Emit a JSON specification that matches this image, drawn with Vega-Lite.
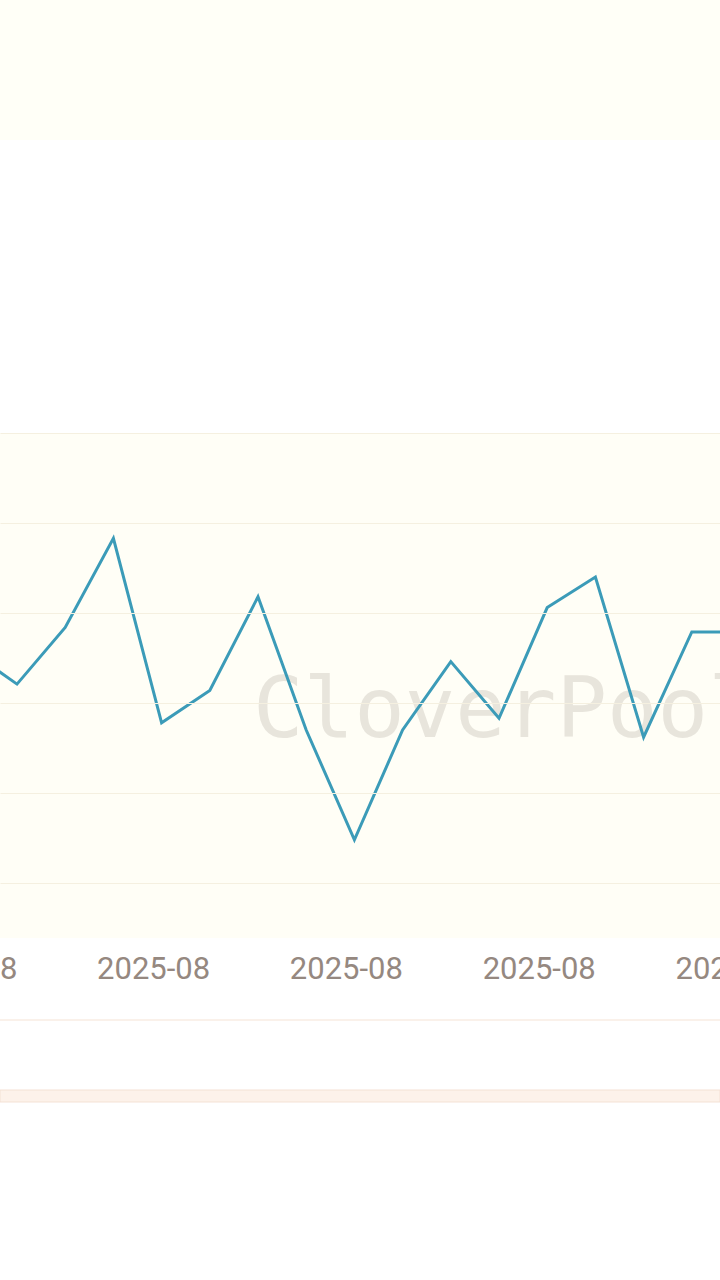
{
  "$schema": "https://vega.github.io/schema/vega-lite/v6.json",
  "width": 720,
  "height": 938,
  "autosize": {"type": "none"},
  "padding": {"left": 0, "top": 0, "right": 0, "bottom": 342},
  "background": "#ffffff",
  "config": {"view": {"stroke": null}},
  "data": {
    "values": [
      {"date": "2025-08-01", "value": 2.59},
      {"date": "2025-08-02", "value": 2.21},
      {"date": "2025-08-03", "value": 2.84},
      {"date": "2025-08-04", "value": 3.83},
      {"date": "2025-08-05", "value": 1.78},
      {"date": "2025-08-06", "value": 2.14},
      {"date": "2025-08-07", "value": 3.18},
      {"date": "2025-08-08", "value": 1.70},
      {"date": "2025-08-09", "value": 0.48},
      {"date": "2025-08-10", "value": 1.70},
      {"date": "2025-08-11", "value": 2.46},
      {"date": "2025-08-12", "value": 1.83},
      {"date": "2025-08-13", "value": 3.06},
      {"date": "2025-08-14", "value": 3.40},
      {"date": "2025-08-15", "value": 1.62},
      {"date": "2025-08-16", "value": 2.79},
      {"date": "2025-08-17", "value": 2.79}
    ]
  },
  "layer": [
    {
      "data": {"values": [{"band": "top"}]},
      "mark": {"type": "rect", "color": "#fffff7"},
      "encoding": {
        "y": {"datum": 9.8111, "type": "quantitative"},
        "y2": {"datum": 8.2556}
      }
    },
    {
      "data": {"values": [{"band": "plot"}]},
      "mark": {"type": "rect", "color": "#fffef6"},
      "encoding": {
        "y": {"datum": 5, "type": "quantitative"},
        "y2": {"datum": -0.6111}
      }
    },
    {
      "data": {"values": [{"band": "sep"}]},
      "mark": {"type": "rule", "color": "#f8ede3", "strokeWidth": 1.5},
      "encoding": {
        "y": {"datum": -1.5222, "type": "quantitative"}
      }
    },
    {
      "data": {"values": [{"band": "slider"}]},
      "mark": {"type": "rect", "color": "#fdf2ea", "stroke": "#f4e1d4", "strokeWidth": 1},
      "encoding": {
        "y": {"datum": -2.3, "type": "quantitative"},
        "y2": {"datum": -2.4333}
      }
    },
    {
      "transform": [{"filter": "utcdate(datum.date) == 7"}],
      "mark": {"type": "text", "text": "CloverPool", "font": "DejaVu Sans Mono", "fontSize": 84, "color": "#e8e5dc", "align": "left", "baseline": "alphabetic", "dx": -5},
      "encoding": {
        "x": {"field": "date", "type": "temporal", "scale": {"type": "utc"}, "axis": null},
        "y": {"datum": 1.622, "type": "quantitative"}
      }
    },
    {
      "mark": {"type": "line", "color": "#3b9bb8", "strokeWidth": 3, "clip": true},
      "encoding": {
        "x": {
          "field": "date",
          "type": "temporal",
          "scale": {"type": "utc", "domain": [1754062326720, 1755352944000], "nice": false},
          "axis": null
        },
        "y": {
          "field": "value",
          "type": "quantitative",
          "scale": {"domain": [-0.6111, 9.8111], "nice": false, "zero": false},
          "axis": {"values": [0, 1, 2, 3, 4, 5], "grid": true, "gridColor": "#f5f0e0", "gridWidth": 1, "labels": false, "ticks": false, "domain": false, "title": null, "zindex": 1}
        }
      }
    },
    {
      "transform": [{"filter": "indexof([1, 5, 9, 13, 17], utcdate(datum.date)) >= 0"}],
      "mark": {"type": "text", "font": "Roboto", "fontSize": 31, "color": "#958880", "dx": -8, "baseline": "middle", "align": "center"},
      "encoding": {
        "x": {"field": "date", "type": "temporal", "scale": {"type": "utc"}, "axis": null},
        "y": {"datum": -0.9667, "type": "quantitative"},
        "text": {"field": "date", "type": "temporal", "timeUnit": "utcyearmonth", "format": "%Y-%m"}
      }
    }
  ]
}
